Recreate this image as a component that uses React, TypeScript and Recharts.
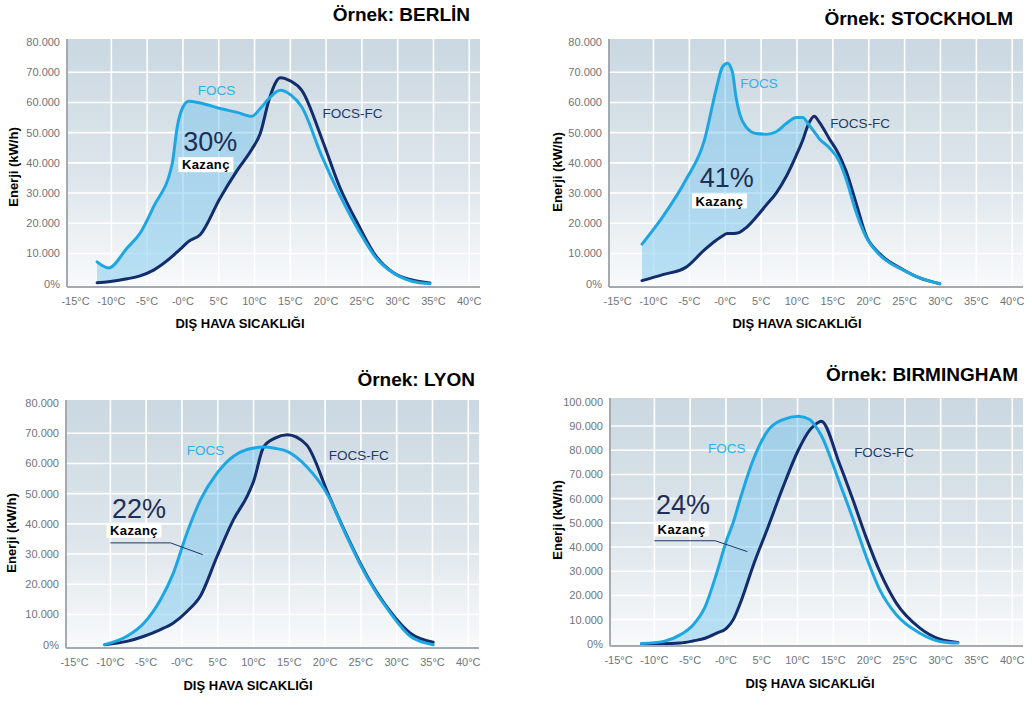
import React from 'react'
import {
  ComposedChart,
  Area,
  Line,
  XAxis,
  YAxis,
  CartesianGrid,
  ReferenceDot,
  ReferenceLine,
} from 'recharts'

const FONT = '"Liberation Sans", Arial, sans-serif'
const FOCS_COLOR = '#1ca7e3'
const FC_COLOR = '#122c6c'

const tempTicks = [-15, -10, -5, 0, 5, 10, 15, 20, 25, 30, 35, 40]
const gridTemps = [-10, -5, 0, 5, 10, 15, 20, 25, 30, 35, 40]
const energyTicks80 = [0, 10000, 20000, 30000, 40000, 50000, 60000, 70000, 80000]
const energyTicks100 = [0, 10000, 20000, 30000, 40000, 50000, 60000, 70000, 80000, 90000, 100000]

// Örnek: BERLİN
const berlinTemps = [-12, -10.4, -7.8, -6, -4.1, -1.5, -0.8, 0, 0.8, 2.4, 5.2, 7.6, 9.6, 10.8, 12.1, 13.6, 15.1, 16.6, 19.4, 21.9, 24.5, 27, 29.4, 32, 34.5]
const berlinFocs = [7200, 5200, 11800, 16700, 25500, 39800, 51900, 58500, 60400, 59800, 58000, 56700, 55400, 58000, 61500, 64000, 62400, 58500, 42200, 29400, 17800, 8500, 3500, 800, 0]
const berlinFc = [300, 600, 1600, 2600, 4500, 9000, 10500, 12300, 14000, 16200, 28400, 37600, 44400, 49700, 61500, 68200, 67000, 64000, 48000, 32000, 19500, 9000, 3600, 1200, 200]

// Örnek: STOCKHOLM
const stockholmTemps = [-11.6, -8.7, -5.5, -2.9, -1.3, -0.4, 0.3, 1, 1.5, 2, 2.9, 4.3, 5.7, 7.1, 8.5, 9.9, 10.8, 11.6, 12.4, 13.1, 14.5, 15.9, 16.8, 18.2, 19.6, 21.5, 24.7, 27.1, 29.9]
const stockholmFocs = [13100, 22200, 34300, 47500, 64000, 71700, 73000, 70100, 61800, 56300, 51900, 49700, 49500, 50300, 53000, 55000, 55000, 52800, 50300, 48000, 45000, 40500, 35000, 24000, 15600, 9600, 4600, 1900, 0]
const stockholmFc = [1000, 3000, 5400, 11200, 14300, 15800, 16600, 16600, 16700, 17000, 18500, 22000, 26000, 30000, 35500, 42500, 47500, 52800, 55400, 53500, 48000, 42500, 37500, 27000, 16100, 10000, 4800, 1900, 0]

// Örnek: LYON
const lyonTemps = [-10.8, -7.7, -5.3, -3, -1.2, 0.7, 2.6, 4.9, 7.2, 9.1, 10, 11.4, 13, 14.7, 17.4, 20.5, 22.6, 25.8, 29.1, 31.9, 35.1]
const lyonFocs = [0, 2800, 7200, 14900, 23700, 37000, 48000, 56800, 62400, 64600, 65100, 65400, 65000, 64000, 59000, 49000, 38000, 22600, 10500, 2800, 0]
const lyonFc = [0, 1100, 2800, 5000, 7200, 11000, 16200, 29200, 41400, 49100, 54000, 65400, 68400, 69500, 66200, 49500, 38300, 23000, 11000, 3800, 800]

// Örnek: BIRMINGHAM
const birminghamTemps = [-11.8, -8.7, -6.4, -4.6, -2.9, -1.3, 0.1, 1, 2, 3.8, 5.9, 8, 10.1, 11.7, 12.4, 13.3, 15.9, 17.8, 19.6, 21.5, 23.8, 27.1, 29.9, 32.4]
const birminghamFocs = [100, 1000, 3700, 7800, 15400, 29200, 42900, 50000, 60000, 76000, 88300, 92700, 94100, 92700, 90400, 86200, 66300, 51200, 36000, 22300, 12000, 4400, 1000, 300]
const birminghamFc = [0, 0, 300, 1200, 2300, 4400, 6500, 9900, 16800, 32300, 48400, 65000, 80000, 88300, 90400, 92000, 74100, 59000, 43900, 29800, 16800, 6500, 1900, 600]

type Pt = { x: number; y: number }

type PanelDef = {
  id: string
  title: string
  gain: string
  temps: number[]
  focs: number[]
  fc: number[]
  yDomain: [number, number]
  yTicks: number[]
  plot: { left: number; top: number; width: number; height: number }
  titleAt: Pt
  xTitleAt: Pt
  yTitleAt: Pt
  focsLabel: Pt
  fcLabel: Pt
  gainLabel: Pt
  boxLabel: Pt
  leader?: Pt[]
}

const panels: PanelDef[] = [
  {
    id: 'berlin', title: 'Örnek: BERLİN', gain: '30%',
    temps: berlinTemps, focs: berlinFocs, fc: berlinFc,
    yDomain: [-1100, 81000], yTicks: energyTicks80,
    plot: { left: 67, top: 39, width: 413, height: 248 },
    titleAt: { x: 470, y: 21 }, xTitleAt: { x: 240, y: 328 }, yTitleAt: { x: 13, y: 167 },
    focsLabel: { x: 4.7, y: 64200 }, fcLabel: { x: 23.7, y: 56300 },
    gainLabel: { x: 3.8, y: 47300 }, boxLabel: { x: 3.2, y: 39400 },
  },
  {
    id: 'stockholm', title: 'Örnek: STOCKHOLM', gain: '41%',
    temps: stockholmTemps, focs: stockholmFocs, fc: stockholmFc,
    yDomain: [-1100, 81000], yTicks: energyTicks80,
    plot: { left: 609, top: 39, width: 414, height: 248 },
    titleAt: { x: 1013, y: 25 }, xTitleAt: { x: 797, y: 328 }, yTitleAt: { x: 557, y: 172 },
    focsLabel: { x: 4.7, y: 66400 }, fcLabel: { x: 18.8, y: 53200 },
    gainLabel: { x: 0.2, y: 35200 }, boxLabel: { x: -0.8, y: 27400 },
  },
  {
    id: 'lyon', title: 'Örnek: LYON', gain: '22%',
    temps: lyonTemps, focs: lyonFocs, fc: lyonFc,
    yDomain: [-1100, 81000], yTicks: energyTicks80,
    plot: { left: 66, top: 400, width: 413, height: 248 },
    titleAt: { x: 475, y: 386 }, xTitleAt: { x: 248, y: 690 }, yTitleAt: { x: 11, y: 533 },
    focsLabel: { x: 3.3, y: 64300 }, fcLabel: { x: 24.7, y: 62700 },
    gainLabel: { x: -6, y: 45100 }, boxLabel: { x: -6.7, y: 37900 },
    leader: [{ x: -10, y: 33700 }, { x: -1.6, y: 33700 }, { x: 2.9, y: 29800 }],
  },
  {
    id: 'birmingham', title: 'Örnek: BIRMINGHAM', gain: '24%',
    temps: birminghamTemps, focs: birminghamFocs, fc: birminghamFc,
    yDomain: [-900, 101600], yTicks: energyTicks100,
    plot: { left: 610, top: 398, width: 413, height: 248 },
    titleAt: { x: 1018, y: 381 }, xTitleAt: { x: 810, y: 688 }, yTitleAt: { x: 557, y: 520 },
    focsLabel: { x: 0.1, y: 81000 }, fcLabel: { x: 22.1, y: 79400 },
    gainLabel: { x: -6, y: 57800 }, boxLabel: { x: -6.2, y: 47500 },
    leader: [{ x: -10, y: 42600 }, { x: -1.5, y: 42600 }, { x: 3, y: 38100 }],
  },
]

const formatEnergy = (v: number) => (v === 0 ? '0%' : `${v / 1000}.000`)
const formatTemp = (t: number) => (t === 0 ? '-0°C' : `${t}°C`)

function Note(props: any) {
  const vb = props.viewBox || {}
  const cx = (vb.x ?? 0) + (vb.width ?? 0) / 2
  const cy = (vb.y ?? 0) + (vb.height ?? 0) / 2
  const { kind, caption, color } = props
  if (kind === 'box') {
    return (
      <g>
        <rect x={cx - 27.5} y={cy - 7.5} width={55} height={15} fill="#fff" />
        <text x={cx} y={cy} dy="0.36em" textAnchor="middle" fontSize={13} fontWeight="bold"
          fill="#000" fontFamily={FONT} letterSpacing={0.4}>{caption}</text>
      </g>
    )
  }
  if (kind === 'pct') {
    return (
      <text x={cx} y={cy} dy="0.36em" textAnchor="middle" fontSize={27}
        fill="#1e2f58" fontFamily={FONT}>{caption}</text>
    )
  }
  return (
    <text x={cx} y={cy} dy="0.36em" textAnchor="middle" fontSize={13.5}
      fill={color} fontFamily={FONT}>{caption}</text>
  )
}

function EnergyPanel({ p }: { p: PanelDef }) {
  let crossed = false
  const rows = p.temps.map((t, i) => {
    if (p.focs[i] < p.fc[i]) crossed = true
    return { t, focs: p.focs[i], fc: p.fc[i], gain: crossed ? null : [p.fc[i], p.focs[i]] }
  })
  const width = 67 + p.plot.width + 5
  const height = 39 + p.plot.height + 53
  const hGrid = p.yTicks.slice(1, -1)
  const tick = { fontSize: 11, fill: '#6e7479', fontFamily: FONT }
  const axisLine = { stroke: '#a3aab0', strokeWidth: 2 }

  return (
    <div style={{ position: 'absolute', left: p.plot.left - 67, top: p.plot.top - 39, width, height }}>
      <ComposedChart width={width} height={height} data={rows}
        margin={{ top: 39, right: 5, bottom: 23, left: 7 }}>
        <defs>
          <linearGradient id={`bg-${p.id}`} x1="0" y1="0" x2="0" y2="1">
            <stop offset="0%" stopColor="#cbd8e1" />
            <stop offset="55%" stopColor="#dde5eb" />
            <stop offset="100%" stopColor="#f8fafb" />
          </linearGradient>
        </defs>
        <CartesianGrid fill={`url(#bg-${p.id})`} fillOpacity={1} stroke="#ffffff" strokeWidth={1.6}
          horizontalValues={hGrid} verticalValues={gridTemps} />
        <XAxis type="number" dataKey="t" domain={[-16.2, 41.5]} ticks={tempTicks} interval={0}
          allowDataOverflow tickFormatter={formatTemp} tick={tick} tickLine={false} tickSize={0}
          tickMargin={10} axisLine={axisLine} height={30} />
        <YAxis type="number" domain={p.yDomain} ticks={p.yTicks} interval={0} allowDataOverflow
          tickFormatter={formatEnergy} tick={tick} tickLine={false} tickSize={0} tickMargin={7}
          axisLine={axisLine} width={60} />
        <Area type="monotone" dataKey="gain" stroke="none" fill="#6cc1ee" fillOpacity={0.45}
          isAnimationActive={false} activeDot={false} />
        <Line type="monotone" dataKey="fc" stroke={FC_COLOR} strokeWidth={3} dot={false}
          activeDot={false} strokeLinecap="round" isAnimationActive={false} />
        <Line type="monotone" dataKey="focs" stroke={FOCS_COLOR} strokeWidth={3} dot={false}
          activeDot={false} strokeLinecap="round" isAnimationActive={false} />
        {p.leader && p.leader.slice(1).map((pt, i) => (
          <ReferenceLine key={i} segment={[p.leader![i], pt]} stroke="#1e3566" strokeWidth={1} />
        ))}
        <ReferenceDot x={p.focsLabel.x} y={p.focsLabel.y} r={1} fill="none" stroke="none"
          label={<Note kind="series" caption="FOCS" color="#2fb0e8" />} />
        <ReferenceDot x={p.fcLabel.x} y={p.fcLabel.y} r={1} fill="none" stroke="none"
          label={<Note kind="series" caption="FOCS-FC" color="#263a68" />} />
        <ReferenceDot x={p.gainLabel.x} y={p.gainLabel.y} r={1} fill="none" stroke="none"
          label={<Note kind="pct" caption={p.gain} />} />
        <ReferenceDot x={p.boxLabel.x} y={p.boxLabel.y} r={1} fill="none" stroke="none"
          label={<Note kind="box" caption="Kazanç" />} />
      </ComposedChart>
    </div>
  )
}

export default function App() {
  return (
    <div style={{ position: 'absolute', left: 0, top: 0, width: 1032, height: 706, background: '#fff', overflow: 'hidden' }}>
      {panels.map((p) => <EnergyPanel key={p.id} p={p} />)}
      <svg width={1032} height={706} style={{ position: 'absolute', left: 0, top: 0, pointerEvents: 'none' }}>
        {panels.map((p) => (
          <g key={p.id} fontFamily={FONT} fontWeight="bold" fill="#000">
            <text x={p.titleAt.x} y={p.titleAt.y} textAnchor="end" fontSize={19}>{p.title}</text>
            <text x={p.xTitleAt.x} y={p.xTitleAt.y} textAnchor="middle" fontSize={13}>DIŞ HAVA SICAKLIĞI</text>
            <text x={p.yTitleAt.x} y={p.yTitleAt.y} textAnchor="middle" dy="0.36em" fontSize={13}
              transform={`rotate(-90 ${p.yTitleAt.x} ${p.yTitleAt.y})`}>Enerji (kW/h)</text>
          </g>
        ))}
      </svg>
    </div>
  )
}
